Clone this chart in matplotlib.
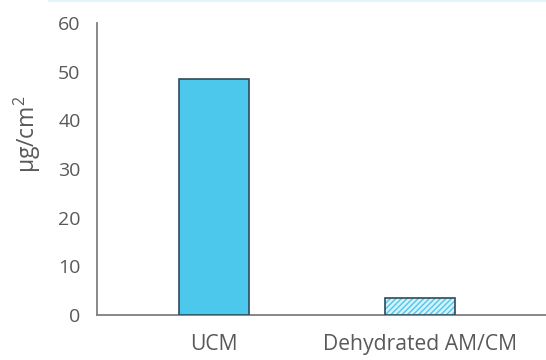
import numpy as np
import matplotlib.pyplot as plt

categorias = ["UCM", "Dehydrated AM/CM"]
valores = [48.5, 3.4]
yticks = [0, 10, 20, 30, 40, 50, 60]

plt.rcParams['font.family'] = ['Open Sans', 'DejaVu Sans']
plt.rcParams['mathtext.fontset'] = 'custom'
plt.rcParams['mathtext.rm'] = 'Open Sans'
plt.rcParams['mathtext.it'] = 'Open Sans'
gris = '#595959'

fig = plt.figure(figsize=(5.46, 3.6), dpi=100)
ax = fig.add_axes([0.178, 0.125, 0.822, 0.811])

x = np.arange(len(categorias))
ancho = 0.34
borde = '#2f4a58'

# barra 1 solida
ax.bar(x[0], valores[0], ancho, color='#4cc8ec', edgecolor=borde, linewidth=1.2, zorder=3)
# barra 2 rayada: relleno + rayas, luego contorno
ax.bar(x[1], valores[1], ancho, color='#d6f1fa', edgecolor='#4cc8ec', hatch='//////', linewidth=0, zorder=3)
ax.bar(x[1], valores[1], ancho, fill=False, edgecolor=borde, linewidth=1.2, zorder=4)

ax.set_xlim(-0.568, 1.61)
ax.set_ylim(0, 60)
ax.set_yticks(yticks)
ax.set_xticks(x)
ax.set_xticklabels(categorias, fontsize=15.2)
ax.tick_params(axis='both', length=0, colors=gris)
ax.tick_params(axis='y', labelsize=14, pad=12)
ax.tick_params(axis='x', pad=14)

for s in ['top', 'right']:
    ax.spines[s].set_visible(False)
ax.spines['left'].set_color('#7f7f7f')
ax.spines['bottom'].set_color('#7f7f7f')
ax.spines['left'].set_linewidth(1.3)
ax.spines['bottom'].set_linewidth(1.3)

ax.set_ylabel(r"μg/cm$^{2}$", fontsize=16.5, color=gris)
ax.yaxis.set_label_coords(-0.12, 0.62)

# linea celeste arriba
fig.add_artist(plt.Line2D([0.09, 1], [0.998, 0.998], color='#e3f5f9', linewidth=1.5))

fig.savefig("out.png", dpi=100)
